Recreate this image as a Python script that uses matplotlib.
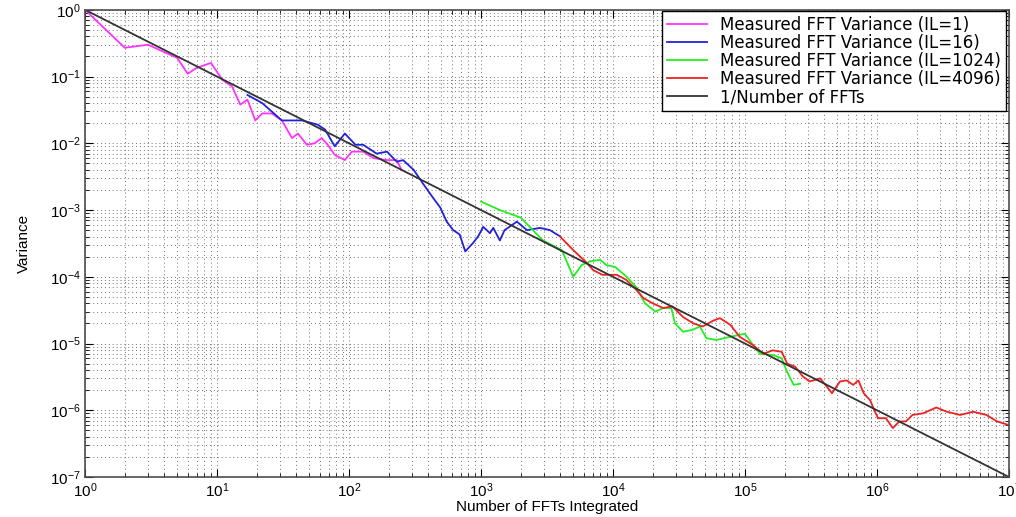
import numpy as np
import matplotlib
matplotlib.use("Agg")
import matplotlib.pyplot as plt

plt.rcParams['font.family'] = ['Liberation Sans', 'DejaVu Sans']

# ---- data (log-log) ----
il1_x = [1, 2, 3, 5, 6, 7, 9, 11, 13, 15,
         17, 19.5, 22, 26, 31, 37, 41, 48, 55, 62,
         69, 78, 93, 105, 128, 153, 194, 230, 250]
il1_y = [1.0, 0.27, 0.30, 0.19, 0.11, 0.135, 0.16, 0.089, 0.071, 0.038,
         0.045, 0.022, 0.028, 0.028, 0.022, 0.012, 0.014, 0.0095, 0.010, 0.012,
         0.0095, 0.0067, 0.0056, 0.0075, 0.0075, 0.006, 0.0056, 0.0056, 0.004]

il16_x = [17, 22, 31, 44, 58, 66, 78, 93, 112, 128,
          162, 194, 230, 257, 309, 363, 436, 490, 550, 616,
          690, 760, 870, 950, 1040, 1170, 1240, 1390, 1510, 1870,
          2230, 2800, 3330, 4000]
il16_y = [0.053, 0.04, 0.022, 0.022, 0.019, 0.016, 0.009, 0.014, 0.0095, 0.0095,
          0.007, 0.0075, 0.0053, 0.0056, 0.004, 0.0025, 0.0015, 0.0011, 0.00067, 0.0005,
          0.00043, 0.00024, 0.00032, 0.0004, 0.00056, 0.00045, 0.00054, 0.00035, 0.0005, 0.00067,
          0.0005, 0.00054, 0.0005, 0.0004]

il1024_x = [1000, 1390, 2000, 2340, 2950, 4100, 5000, 5800, 6700, 8000, 8900,
            10400, 12700, 15000, 17500, 21000, 24000, 27700, 29500, 34000, 40000,
            45600, 51000, 61000, 77000, 100000, 115000, 130000, 163000, 190000, 208000,
            234000, 262000]
il1024_y = [0.00134, 0.001, 0.00077, 0.00056, 0.00035, 0.00025, 0.0001, 0.00015, 0.00017, 0.00018, 0.00015,
            0.00014, 0.0001, 0.00007, 0.00004, 0.00003, 0.000034, 0.000034, 0.00002, 0.000015, 0.000016,
            0.000018, 0.000012, 0.0000113, 0.0000126, 0.000014, 0.0000095, 0.000007, 0.0000067, 0.000006, 0.0000038,
            0.0000024, 0.0000025]

il4096_x = [3980, 5010, 6170, 7080, 8320, 10700, 12600, 15100, 17000, 20000,
            24000, 28200, 33900, 40700, 47900, 57500, 64600, 77600, 91200, 115000,
            138000, 162000, 190000, 209000, 240000, 275000, 309000, 372000, 457000, 525000,
            589000, 661000, 724000, 794000, 891000, 955000, 1.02e6, 1.17e6, 1.32e6, 1.48e6,
            1.66e6, 1.86e6, 2.24e6, 2.82e6, 3.39e6, 4.27e6, 5.37e6, 6.76e6, 8.13e6, 1e7]
il4096_y = [0.0004, 0.00025, 0.00017, 0.000126, 0.000107, 0.000107, 0.00009, 0.000063, 0.000048, 0.00004,
            0.000034, 0.000036, 0.000025, 0.00002, 0.000018, 0.000022, 0.000024, 0.000019, 0.0000126, 0.0000095,
            7e-6, 7.9e-6, 7.5e-6, 5e-6, 4.5e-6, 3.2e-6, 2.7e-6, 3e-6, 1.8e-6, 2.7e-6,
            2.8e-6, 2.4e-6, 2.8e-6, 1.8e-6, 1.4e-6, 1e-6, 7.6e-7, 7.6e-7, 5.4e-7, 6.8e-7,
            6.8e-7, 8.5e-7, 9e-7, 1.1e-6, 9.5e-7, 8.5e-7, 9.5e-7, 8.5e-7, 6.8e-7, 6e-7]

# theoretical 1/N line
n_ffts = np.array([1, 1e7])
ideal = 1.0 / n_ffts

fig = plt.figure(figsize=(10.16, 5.17), dpi=100)
ax = fig.add_axes([0.0837, 0.0774, 0.9093, 0.9036])

ax.plot(il1_x, il1_y, color='#ff33ff', lw=1.3, label='Measured FFT Variance (IL=1)')
ax.plot(il16_x, il16_y, color='#2222dd', lw=1.3, label='Measured FFT Variance (IL=16)')
ax.plot(il1024_x, il1024_y, color='#22ee22', lw=1.3, label='Measured FFT Variance (IL=1024)')
ax.plot(il4096_x, il4096_y, color='#ee2222', lw=1.3, label='Measured FFT Variance (IL=4096)')
ax.plot(n_ffts, ideal, color='#333333', lw=1.3, label='1/Number of FFTs')

ax.set_xscale('log')
ax.set_yscale('log')
ax.set_xlim(1, 1e7)
ax.set_ylim(1e-7, 1)

ax.grid(True, which='both', ls=(0, (1, 3)), color='0.45', lw=0.7)
ax.tick_params(which='both', direction='in', top=True, right=True, labelsize=11, pad=3)
ax.tick_params(which='major', length=6)
ax.tick_params(which='minor', length=3)
for sp in ax.spines.values():
    sp.set_color('0.3')
    sp.set_linewidth(1.2)

ax.set_xlabel('Number of FFTs Integrated', fontsize=11, labelpad=0)
ax.set_ylabel('Variance', fontsize=11, labelpad=14)

leg = ax.legend(loc='upper right', bbox_to_anchor=(0.997, 0.997), borderaxespad=0,
                fancybox=False, framealpha=1, edgecolor='black',
                labelspacing=0.0, handlelength=2.4, handletextpad=0.8, borderpad=0.3,
                prop={'family': 'DejaVu Sans', 'size': 12})
leg.get_frame().set_linewidth(1.0)

fig.savefig('out.png', dpi=100)
